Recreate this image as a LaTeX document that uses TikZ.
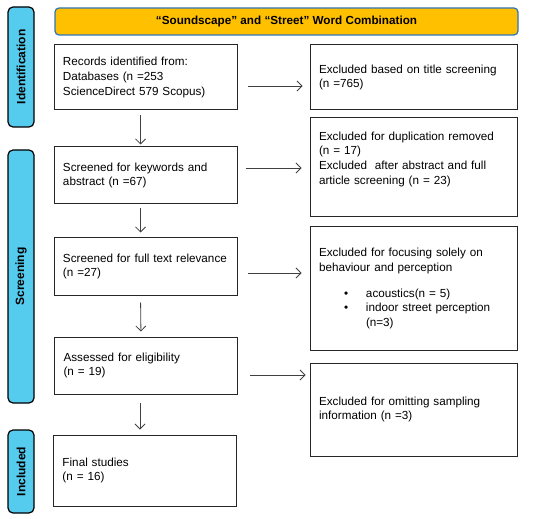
\documentclass[tikz,border=0pt]{standalone}
\usepackage{fontspec}
\setmainfont{Liberation Sans}
\usetikzlibrary{arrows.meta}
\definecolor{sidecyan}{HTML}{55CBEE}
\definecolor{bannergold}{HTML}{FFC000}
\definecolor{bannerblue}{HTML}{2E75B6}
\newcommand{\bulline}[1]{\makebox[47pt][l]{\hspace{25pt}\textbullet}#1}
\hyphenpenalty=10000
\exhyphenpenalty=10000
\begin{document}
\begin{tikzpicture}[x=1pt,y=-1pt,
  box/.style={rectangle,draw=black!85,line width=1pt,align=left,inner xsep=9pt,inner ysep=0pt,font=\fontsize{11.7}{14.7}\selectfont},
  lbox/.style={box,text width=165pt},
  rbox/.style={box,text width=189pt},
  sidebar/.style={rectangle,rounded corners=5pt,draw=black,line width=1.2pt,fill=sidecyan,minimum height=26pt,inner sep=0pt,rotate=90,font=\fontsize{12}{14}\selectfont\bfseries},
  arr/.style={-{Straight Barb[length=5pt,width=10pt]},draw=black!75,line width=0.8pt}]
\useasboundingbox (0,0) rectangle (550,519);
% stages
\node[sidebar,minimum width=120pt] (ident) at (21,67) {Identification};
\node[sidebar,minimum width=253pt] (screen) at (21,276.5) {Screening};
\node[sidebar,minimum width=83pt] (incl) at (21,471.5) {Included};
% heading
\node[rectangle,rounded corners=4pt,draw=bannerblue,line width=1.2pt,fill=bannergold,minimum width=463pt,minimum height=27pt,font=\fontsize{11.7}{14}\selectfont\bfseries] (combo) at (286.5,21.5) {“Soundscape” and “Street” Word Combination};
% main flow
\node[lbox,minimum height=65pt] (records) at (145.5,77.5) {Records identified from:\\Databases (n =253\\ScienceDirect 579 Scopus)};
\node[lbox,minimum height=57pt] (keywords) at (145.5,175.5) {Screened for keywords and\\abstract (n =67)};
\node[lbox,minimum height=57pt] (fulltext) at (145.5,266.5) {Screened for full text relevance\\(n =27)};
\node[lbox,minimum height=57pt] (eligible) at (146,365.5) {Assessed for eligibility\\(n = 19)};
\node[lbox,minimum height=71pt] (final) at (145,470.5) {Final studies\\(n = 16)};
% exclusions
\node[rbox,minimum height=65pt] (title) at (413.5,77.5) {Excluded based on title screening\\(n =765)};
\node[rbox,minimum height=99pt] (dupl) at (413.5,167.5) {Excluded for duplication removed\\(n = 17)\\Excluded~ after abstract and full\\article screening (n = 23)\\\strut};
\node[rbox,minimum height=123pt] (focus) at (413.5,288.5) {Excluded for focusing solely on\\behaviour and perception\\[11pt]\bulline{acoustics(n = 5)}\\\bulline{indoor street perception}\\\hspace*{47pt}(n=3)};
\node[rbox,minimum height=93pt] (sampling) at (413.5,409.5) {Excluded for omitting sampling\\information (n =3)};
% arrows down
\draw[arr,shorten <=5pt,shorten >=2pt] ([xshift=-5pt]records.south) -- ([xshift=-5pt]keywords.north);
\draw[arr,shorten <=4pt,shorten >=5pt] ([xshift=-5pt]keywords.south) -- ([xshift=-5pt]fulltext.north);
\draw[arr,shorten <=7pt,shorten >=5pt] ([xshift=-5pt]fulltext.south) -- ([xshift=-5pt]eligible.north);
\draw[arr,shorten <=8pt,shorten >=5pt] ([xshift=-6pt]eligible.south) -- ([xshift=-5pt]final.north);
% arrows across
\draw[arr,shorten <=10pt,shorten >=7pt] ([yshift=-8.5pt]records.east) -- ([yshift=-8.5pt]title.west);
\draw[arr,shorten <=8pt,shorten >=8pt] ([yshift=7.5pt]keywords.east) -- ([yshift=-0.5pt]dupl.west);
\draw[arr,shorten <=10pt,shorten >=8pt] ([yshift=-6.5pt]fulltext.east) -- ([yshift=15.5pt]focus.west);
\draw[arr,shorten <=12pt,shorten >=4pt] ([yshift=-9.5pt]eligible.east) -- ([yshift=34.5pt]sampling.west);
\end{tikzpicture}
\end{document}
